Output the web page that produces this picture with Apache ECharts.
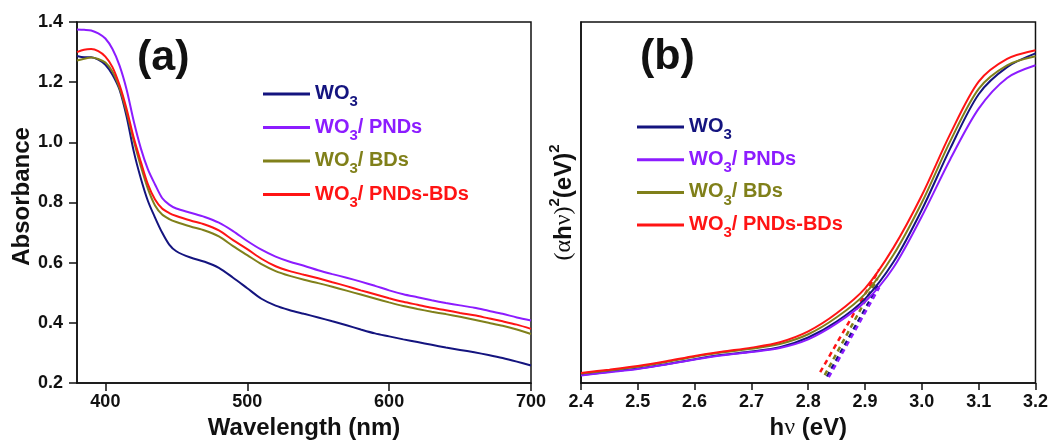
<!DOCTYPE html>
<html><head><meta charset="utf-8">
<script src="https://cdn.jsdelivr.net/npm/echarts@6/dist/echarts.min.js"></script>
<style>html,body{margin:0;padding:0;background:#fff}#c{width:1051px;height:445px}</style>
</head><body><div id="c"></div>
<script>
// ---------- data ----------
const seriesNames = ['WO3', 'WO3/ PNDs', 'WO3/ BDs', 'WO3/ PNDs-BDs'];
const colors = ['#14147f', '#8c1cff', '#80801a', '#ff1414'];

// panel (a): absorbance vs wavelength (nm)
const wavelength = [380,385,390,395,400,405,410,415,420,425,430,435,440,445,450,460,470,480,490,500,510,520,530,540,550,560,570,580,590,600,610,620,630,640,650,660,670,680,690,700];
const absWO3     = [1.287,1.283,1.283,1.275,1.258,1.225,1.175,1.085,0.970,0.880,0.805,0.750,0.700,0.660,0.638,0.617,0.603,0.583,0.550,0.515,0.480,0.457,0.442,0.430,0.418,0.405,0.392,0.378,0.365,0.355,0.345,0.336,0.327,0.318,0.310,0.302,0.293,0.283,0.271,0.258];
const absPNDs    = [1.375,1.374,1.372,1.362,1.345,1.310,1.255,1.175,1.070,0.980,0.910,0.860,0.815,0.793,0.780,0.766,0.752,0.733,0.705,0.672,0.643,0.620,0.603,0.590,0.575,0.562,0.550,0.537,0.523,0.508,0.495,0.485,0.475,0.466,0.458,0.450,0.440,0.430,0.418,0.408];
const absBDs     = [1.272,1.278,1.282,1.277,1.265,1.235,1.180,1.100,1.005,0.920,0.845,0.790,0.760,0.745,0.735,0.720,0.707,0.687,0.655,0.625,0.595,0.572,0.556,0.543,0.532,0.520,0.507,0.494,0.481,0.468,0.456,0.446,0.437,0.429,0.420,0.410,0.400,0.390,0.378,0.363];
const absPNDsBDs = [1.300,1.308,1.310,1.303,1.285,1.250,1.190,1.110,1.015,0.935,0.860,0.810,0.780,0.765,0.755,0.740,0.727,0.707,0.675,0.645,0.613,0.588,0.572,0.560,0.548,0.535,0.522,0.508,0.495,0.482,0.470,0.460,0.450,0.442,0.433,0.425,0.415,0.405,0.394,0.380];
const wlTicks  = [400, 500, 600, 700];
const absTicks = [0.2, 0.4, 0.6, 0.8, 1.0, 1.2, 1.4];

// panel (b): Tauc plot (arbitrary units)
const hv         = [2.40,2.45,2.50,2.55,2.60,2.65,2.70,2.75,2.80,2.85,2.90,2.95,3.00,3.05,3.10,3.15,3.20];
const taucWO3     = [0.022,0.031,0.040,0.052,0.066,0.078,0.087,0.099,0.126,0.170,0.233,0.335,0.480,0.650,0.800,0.875,0.913];
const taucPNDs    = [0.021,0.030,0.039,0.051,0.065,0.077,0.086,0.097,0.121,0.165,0.225,0.320,0.462,0.620,0.760,0.845,0.880];
const taucBDs     = [0.026,0.035,0.045,0.058,0.073,0.085,0.095,0.108,0.135,0.182,0.247,0.355,0.500,0.670,0.815,0.880,0.905];
const taucPNDsBDs = [0.028,0.037,0.047,0.060,0.075,0.087,0.098,0.113,0.143,0.193,0.262,0.375,0.520,0.690,0.835,0.898,0.922];
// linear extrapolation segments [start, end]
const fitWO3X     = [2.833, 2.925], fitWO3Y     = [0.018, 0.275];
const fitPNDsX    = [2.836, 2.925], fitPNDsY    = [0.016, 0.265];
const fitBDsX     = [2.829, 2.922], fitBDsY     = [0.022, 0.290];
const fitPNDsBDsX = [2.821, 2.925], fitPNDsBDsY = [0.030, 0.315];
const evTicks = [2.4, 2.5, 2.6, 2.7, 2.8, 2.9, 3.0, 3.1, 3.2];

// ---------- build ----------
const FONT = "'Liberation Sans', Arial, sans-serif";
const SERIF = "'Liberation Serif', 'DejaVu Serif', serif";
const pair = (xs, ys) => xs.map((x, i) => [x, ys[i]]);
const absSets = [absWO3, absPNDs, absBDs, absPNDsBDs];
const taucSets = [taucWO3, taucPNDs, taucBDs, taucPNDsBDs];
const fitX = [fitWO3X, fitPNDsX, fitBDsX, fitPNDsBDsX];
const fitY = [fitWO3Y, fitPNDsY, fitBDsY, fitPNDsBDsY];

const legendRich = {};
colors.forEach((c, i) => {
  legendRich['m' + i] = {color: c, fontSize: 20, fontWeight: 'bold', fontFamily: FONT, verticalAlign: 'top', padding: [5, 0, 0, 0]};
  legendRich['s' + i] = {color: c, fontSize: 15, fontWeight: 'bold', fontFamily: FONT, verticalAlign: 'top', padding: [16, 0, 0, 0]};
});
function legendFmt(name) {
  const i = seriesNames.indexOf(name);
  const rest = name.slice(3);
  return '{m' + i + '|WO}{s' + i + '|3}' + (rest ? '{m' + i + '|' + rest + '}' : '');
}
function makeLegend(left, top, gap) {
  return {
    orient: 'vertical', left: left, top: top, padding: 0, itemGap: gap,
    itemWidth: 47, itemHeight: 3, icon: 'rect', selectedMode: false,
    data: seriesNames.map((n, i) => ({name: n, itemStyle: {color: colors[i]}})),
    formatter: legendFmt,
    textStyle: {fontFamily: FONT, fontSize: 20, fontWeight: 'bold', rich: legendRich}
  };
}

const axisLineStyle = {color: '#111', width: 1.5};
const tickLabel = {fontFamily: FONT, fontSize: 18, fontWeight: 'bold', color: '#111'};
const nameStyle = {fontFamily: FONT, fontSize: 24, fontWeight: 'bold', color: '#111'};

const series = [];
absSets.forEach((arr, i) => series.push({
  name: seriesNames[i], type: 'line', xAxisIndex: 0, yAxisIndex: 0,
  data: pair(wavelength, arr), symbol: 'none', smooth: 0.3,
  lineStyle: {color: colors[i], width: 2}, itemStyle: {color: colors[i]}, z: 3
}));
taucSets.forEach((arr, i) => series.push({
  name: seriesNames[i], type: 'line', xAxisIndex: 1, yAxisIndex: 1,
  data: pair(hv, arr), symbol: 'none', smooth: 0.3,
  lineStyle: {color: colors[i], width: 2}, itemStyle: {color: colors[i]}, z: 3
}));
fitX.forEach((xs, i) => series.push({
  name: seriesNames[i] + ' fit', type: 'line', xAxisIndex: 1, yAxisIndex: 1,
  data: pair(xs, fitY[i]), symbol: 'none',
  lineStyle: {color: colors[i], width: 2.5, type: [5, 4]}, z: 2
}));

const option = {
  animation: false,
  backgroundColor: '#fff',
  grid: [
    {left: 77, top: 22, width: 454, height: 366, show: true, borderColor: '#111', borderWidth: 1.5, backgroundColor: 'transparent'},
    {left: 581, top: 22, width: 455, height: 366, show: true, borderColor: '#111', borderWidth: 1.5, backgroundColor: 'transparent'}
  ],
  xAxis: [
    {type: 'value', gridIndex: 0, min: 380, max: 700,
     axisLine: {show: true, onZero: false, lineStyle: axisLineStyle},
     axisTick: {show: true, inside: false, length: 8, customValues: wlTicks, lineStyle: axisLineStyle},
     axisLabel: Object.assign({customValues: wlTicks, margin: 10}, tickLabel),
     splitLine: {show: false},
     name: 'Wavelength (nm)', nameLocation: 'middle', nameGap: 33, nameTextStyle: nameStyle},
    {type: 'value', gridIndex: 1, min: 2.4, max: 3.2,
     axisLine: {show: true, onZero: false, lineStyle: axisLineStyle},
     axisTick: {show: true, inside: false, length: 7, customValues: evTicks, lineStyle: axisLineStyle},
     axisLabel: Object.assign({customValues: evTicks, margin: 10, formatter: v => v.toFixed(1)}, tickLabel),
     splitLine: {show: false},
     name: '{b|h}{g|ν}{b| (eV)}', nameLocation: 'middle', nameGap: 33,
     nameTextStyle: Object.assign({rich: {
       b: {fontFamily: FONT, fontSize: 24, fontWeight: 'bold', color: '#111'},
       g: {fontFamily: SERIF, fontSize: 24, fontWeight: 'normal', color: '#111'}
     }}, nameStyle)}
  ],
  yAxis: [
    {type: 'value', gridIndex: 0, min: 0.2, max: 1.4,
     axisLine: {show: true, onZero: false, lineStyle: axisLineStyle},
     axisTick: {show: true, inside: false, length: 8, customValues: absTicks, lineStyle: axisLineStyle},
     axisLabel: Object.assign({customValues: absTicks, margin: 14, formatter: v => v.toFixed(1)}, tickLabel),
     splitLine: {show: false},
     name: 'Absorbance', nameLocation: 'middle', nameGap: 42,
     nameTextStyle: Object.assign({padding: [0, 0, 0, 12]}, nameStyle)},
    {type: 'value', gridIndex: 1, min: 0, max: 1,
     axisLine: {show: true, onZero: false, lineStyle: axisLineStyle},
     axisTick: {show: false}, axisLabel: {show: false}, splitLine: {show: false},
     name: '{n|(α}{b|h}{n|ν)}{p|2}{b|(eV)}{p|2}', nameLocation: 'middle', nameGap: 5,
     nameTextStyle: {rich: {
       n: {fontFamily: SERIF, fontSize: 24, fontWeight: 'normal', color: '#111', padding: [5, 0, 0, 0]},
       b: {fontFamily: FONT, fontSize: 24, fontWeight: 'bold', color: '#111', padding: [5, 0, 0, 0]},
       p: {fontFamily: FONT, fontSize: 15, fontWeight: 'bold', color: '#111', verticalAlign: 'top'}
     }}}
  ],
  legend: [makeLegend(263, 83.5, 7.5), makeLegend(637, 116.5, 6.7)],
  graphic: [
    {type: 'text', left: 137, top: 37, style: {text: '(a)', font: 'bold 43px ' + FONT, fill: '#111'}},
    {type: 'text', left: 640, top: 36, style: {text: '(b)', font: 'bold 43px ' + FONT, fill: '#111'}}
  ],
  series: series
};
const chart = echarts.init(document.getElementById('c'), null, {renderer: 'canvas'});
chart.setOption(option);
</script>
</body></html>
